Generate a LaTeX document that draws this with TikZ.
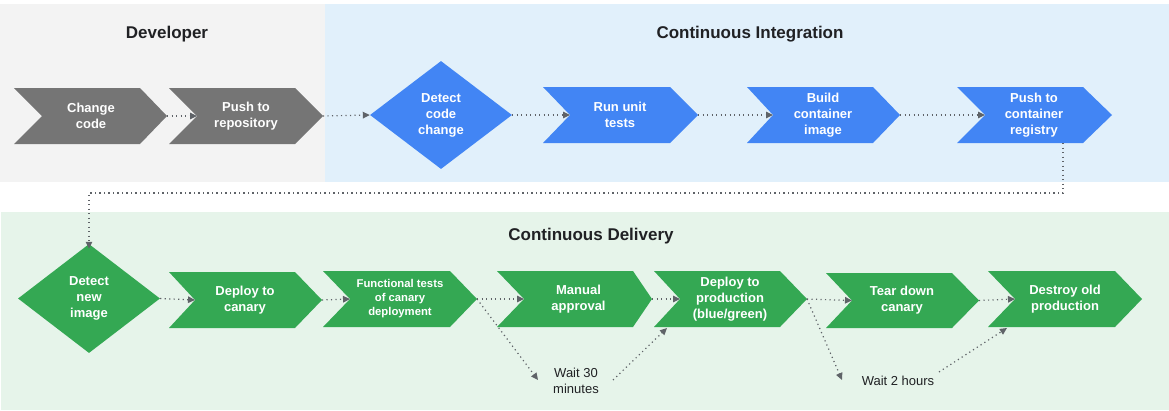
\documentclass[tikz,border=0pt]{standalone}
\usepackage{fontspec}
\setmainfont{Liberation Sans}
\usetikzlibrary{shapes.geometric,arrows.meta}
\definecolor{devbg}{HTML}{F3F3F3}
\definecolor{cibg}{HTML}{E1F0FB}
\definecolor{cdbg}{HTML}{E6F4EA}
\definecolor{graych}{HTML}{757575}
\definecolor{bluech}{HTML}{4285F4}
\definecolor{greench}{HTML}{34A853}
\definecolor{titlec}{HTML}{202124}
\definecolor{linec}{HTML}{5F6368}
\tikzset{
  lbl/.style={text=white,font=\bfseries\fontsize{13}{16}\selectfont,align=center,inner sep=0pt},
  lblsmall/.style={text=white,font=\bfseries\fontsize{11.3}{14}\selectfont,align=center,inner sep=0pt},
  note/.style={text=titlec,font=\fontsize{13}{15.5}\selectfont,align=center,inner sep=0pt},
  title/.style={text=titlec,font=\bfseries\fontsize{17}{20}\selectfont,inner sep=0pt},
  conn/.style={draw=linec,line width=1.2pt,dash pattern=on 1.2pt off 3.3pt,
    -{Triangle[length=7pt,width=6.5pt]}},
  plainconn/.style={draw=linec,line width=1.2pt,dash pattern=on 1.2pt off 3.3pt},
  dia/.style={diamond,inner sep=0pt,text=white,align=center,
    font=\bfseries\fontsize{13}{16}\selectfont},
}
\newcommand\chevshape[9]{%
  \fill[#8] (#2,#6) -- (#4,#6) -- (#5,{(#6+#7)/2}) -- (#4,#7) -- (#2,#7) -- (#3,{(#6+#7)/2}) -- cycle;
  \coordinate (#1-in) at (#3,{(#6+#7)/2});
  \coordinate (#1-out) at (#5,{(#6+#7)/2});
  \node[#9] (#1) at ({(#3+#4)/2},{(#6+#7)/2})}
\begin{document}
\begin{tikzpicture}[x=1pt,y=-1pt]
\useasboundingbox (0,0) rectangle (1169,410);
% panels
\fill[devbg] (0,4) rectangle (325,182);
\fill[cibg] (325,4) rectangle (1169,182);
\fill[cdbg] (1,212) rectangle (1169,410);
% titles
\node[title] (tdev) at (167,34) {Developer};
\node[title] (tci) at (750,34) {Continuous Integration};
\node[title] (tcd) at (591,236) {Continuous Delivery};
% developer
\chevshape{change}{14}{42}{140}{167}{88}{144}{graych}{lbl} {Change\\code};
\chevshape{push}{169}{197}{295}{323}{88}{144}{graych}{lbl} {Push to\\repository};
% CI
\node[dia,fill=bluech,minimum width=142pt,minimum height=108pt] (detect) at (441,115) {Detect\\code\\change};
\chevshape{run}{543}{570}{670}{698}{87}{143}{bluech}{lbl} {Run unit\\tests};
\chevshape{build}{747}{773}{873}{900}{87}{143}{bluech}{lbl} {Build\\container\\image};
\chevshape{reg}{957}{985}{1083}{1112}{87}{143}{bluech}{lbl} {Push to\\container\\registry};
\coordinate (regbot) at (1063,143);
% CD
\node[dia,fill=greench,minimum width=142pt,minimum height=109pt] (newimg) at (89,298.5) {Detect\\new\\image};
\chevshape{canary}{169}{195}{295}{322}{272}{328}{greench}{lbl} {Deploy to\\canary};
\chevshape{func}{323}{350}{450}{477}{271}{327}{greench}{lblsmall} {Functional tests\\of canary\\deployment};
\chevshape{manual}{497}{524}{633}{652}{271}{327}{greench}{lbl} {Manual\\approval};
\chevshape{deploy}{654}{680}{780}{807}{271}{327}{greench}{lbl} {Deploy to\\production\\(blue/green)};
\chevshape{tear}{826}{852}{952}{979}{273}{328}{greench}{lbl} {Tear down\\canary};
\chevshape{destroy}{988}{1015}{1115}{1142}{271}{327}{greench}{lbl} {Destroy old\\production};
% notes
\node[note] (w30) at (576,381) {Wait 30\\minutes};
\node[note] (w2h) at (898,381) {Wait 2 hours};
\coordinate (w30in) at (538,380);
\coordinate (w30out) at (613,380);
\coordinate (deploybot) at (667,328);
\coordinate (w2hin) at (842,380);
\coordinate (w2hout) at (939,372);
\coordinate (destroybot) at (1007,328);
% connectors
\draw[conn] (change-out) -- (push-in);
\draw[conn] (push-out) -- (detect.west);
\draw[conn] (detect.east) -- (run-in);
\draw[conn] (run-out) -- (build-in);
\draw[conn] (build-out) -- (reg-in);
\draw[conn] (regbot) |- (89,193) -- ([yshift=-5pt]newimg.north);
\draw[conn] (newimg.east) -- (canary-in);
\draw[conn] (canary-out) -- (func-in);
\draw[conn] (func-out) -- (manual-in);
\draw[conn] (func-out) -- (w30in);
\draw[conn] (w30out) -- (deploybot);
\draw[conn] (manual-out) -- (deploy-in);
\draw[conn] (deploy-out) -- (tear-in);
\draw[conn] (deploy-out) -- (w2hin);
\draw[conn] (w2hout) -- (destroybot);
\draw[conn] (tear-out) -- (destroy-in);
\end{tikzpicture}
\end{document}
